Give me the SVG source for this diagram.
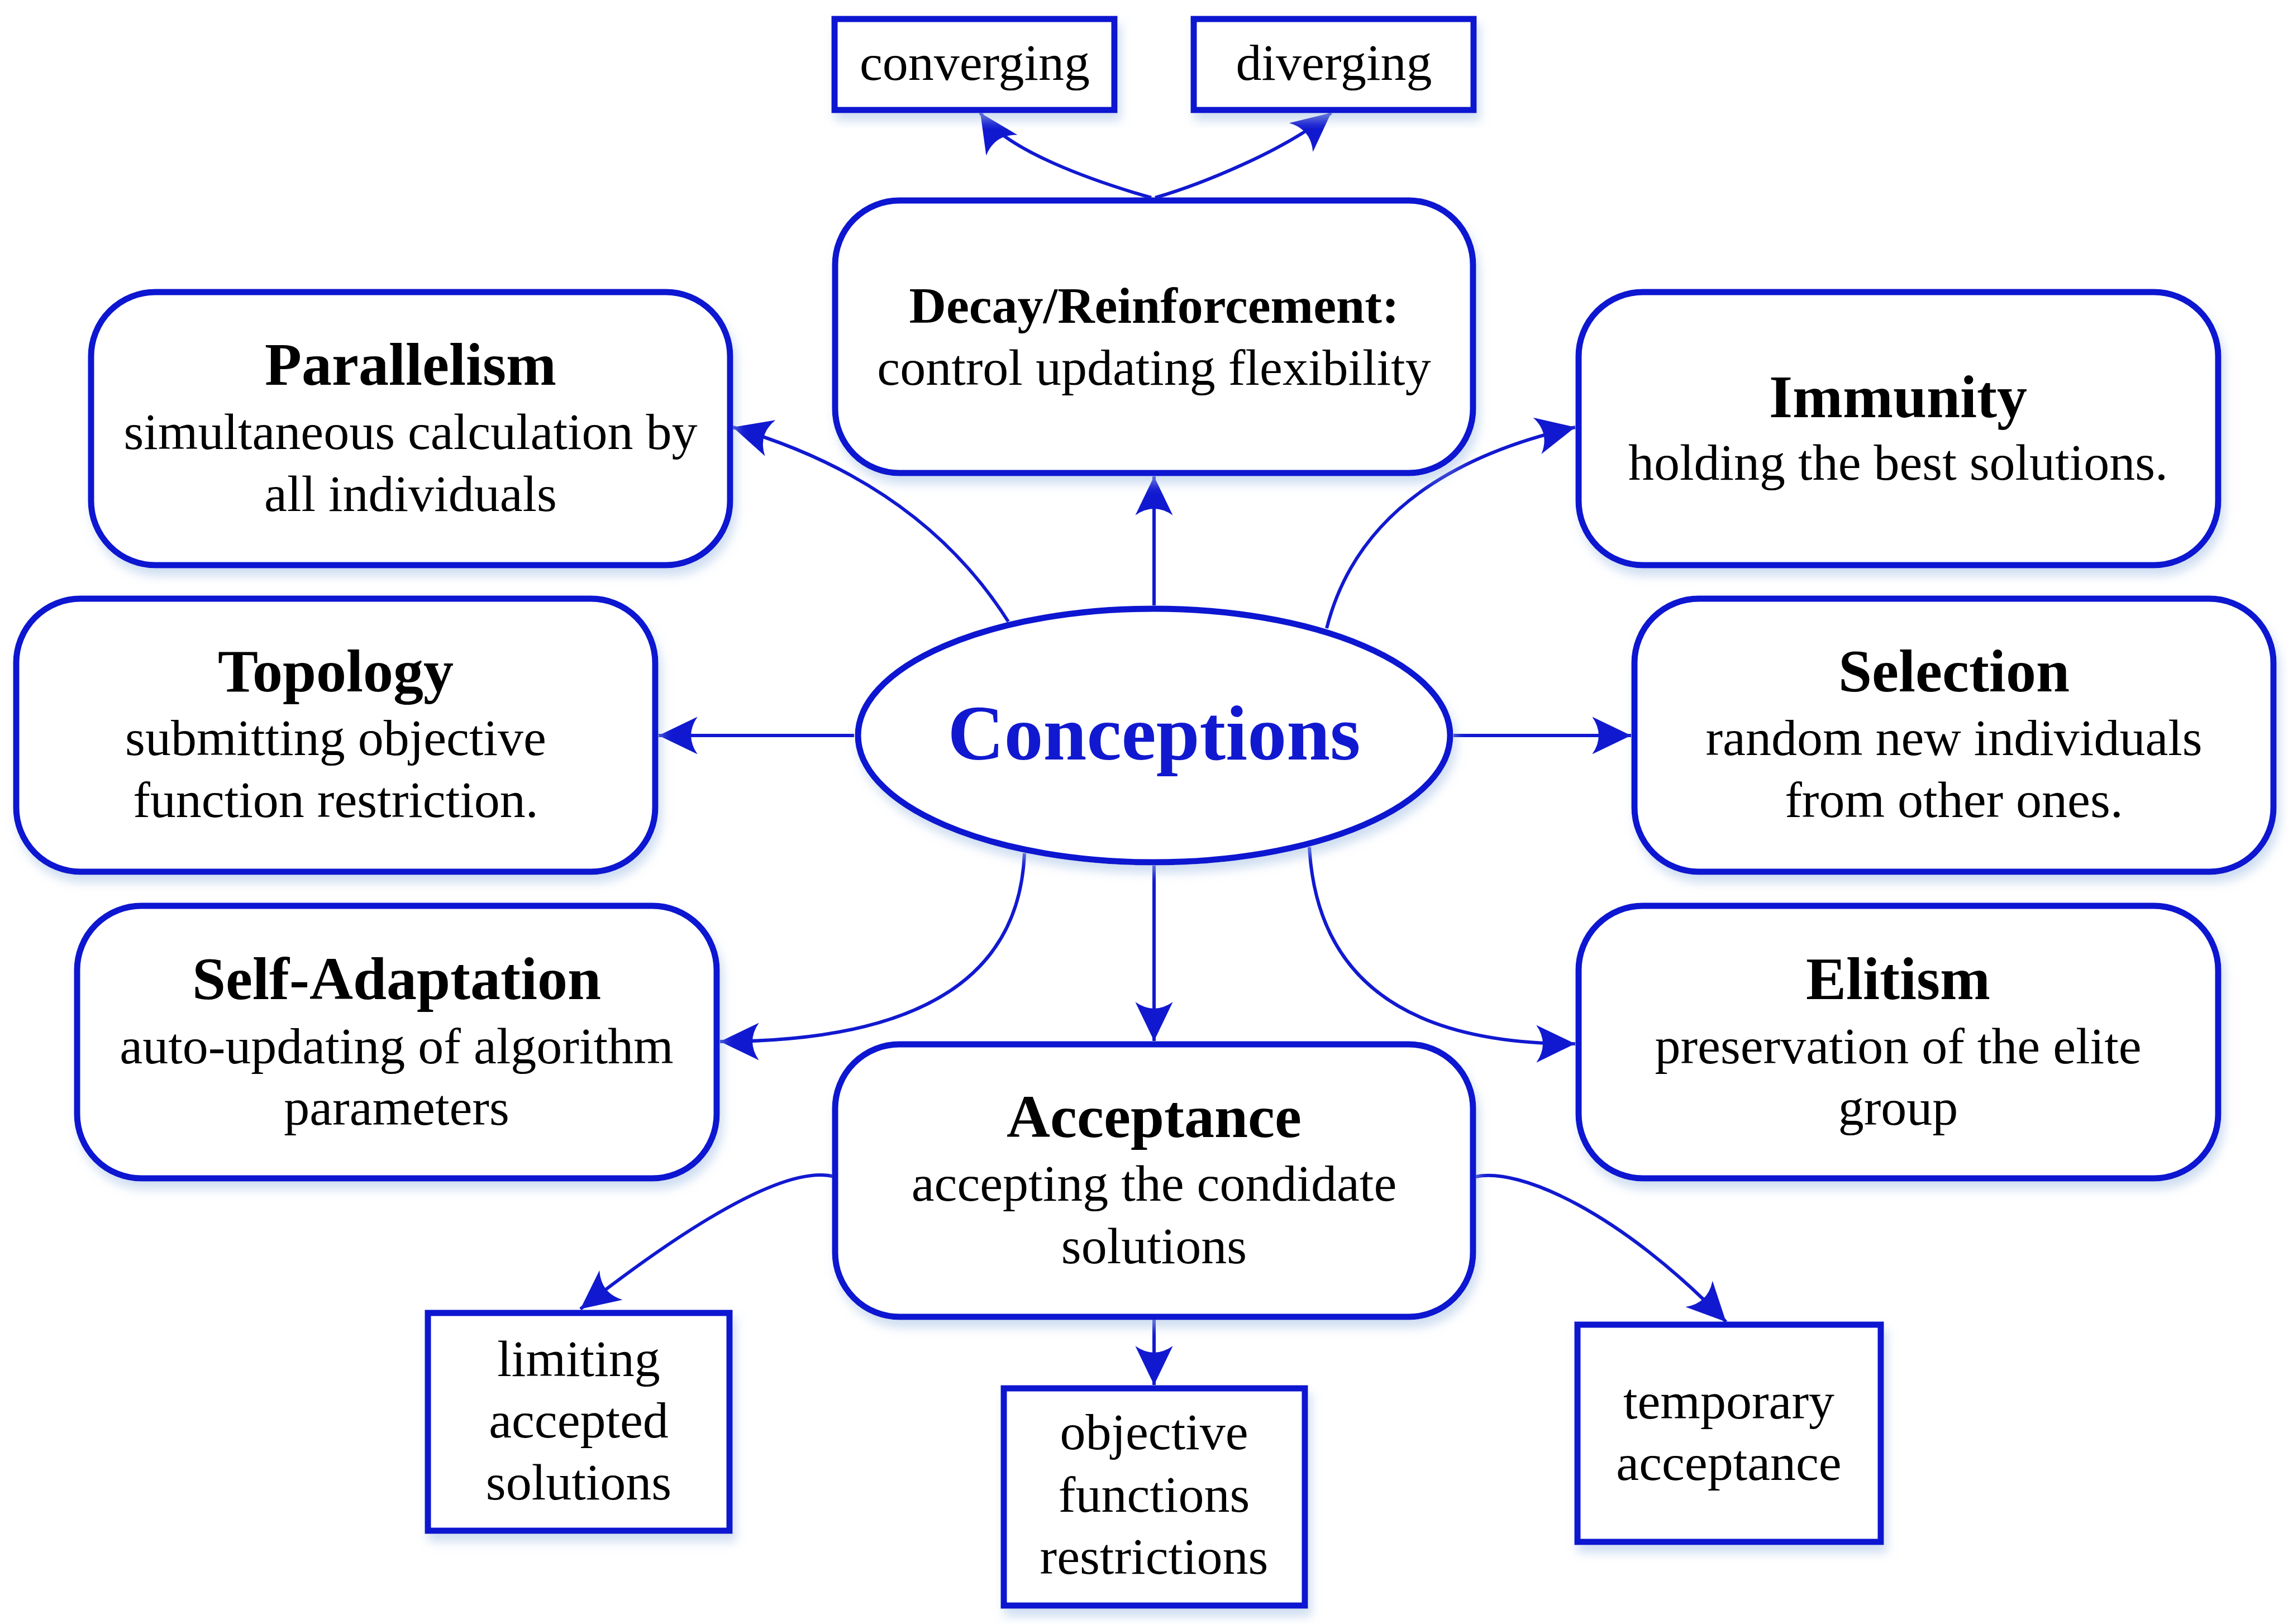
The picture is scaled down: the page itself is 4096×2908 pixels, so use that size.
<svg xmlns="http://www.w3.org/2000/svg" width="4096" height="2908" viewBox="0 0 4096 2908">
<style>
.box{fill:#fff;stroke:#1119d0;stroke-width:11;filter:url(#sh)}
.sq{fill:#fff;stroke:#1119d0;stroke-width:11;filter:url(#sh)}
.con{fill:none;stroke:#1119d0;stroke-width:6;marker-end:url(#ah)}
text{font-family:"Liberation Serif","Times New Roman",serif;text-anchor:middle;fill:#000}
.t{font-size:108px;font-weight:bold}
.b{font-size:92px}
.tb{font-size:92px;font-weight:bold}
</style>
<defs>
<filter id="sh" x="-10%" y="-10%" width="125%" height="130%">
<feDropShadow dx="6" dy="14" stdDeviation="9" flood-color="#a9c3e6" flood-opacity="0.55"/>
</filter>
<marker id="ah" markerUnits="userSpaceOnUse" markerWidth="80" markerHeight="80" viewBox="-60 -30 62 60" refX="0" refY="0" orient="auto" overflow="visible">
<path d="M0,0 L-54,-26 Q-36,0 -54,26 Z" fill="#1119d0"/>
</marker>
</defs>
<rect width="4096" height="2908" fill="#fff"/>

<g id="connectors">
<path class="con" d="M2066,1084 L2066,853"/>
<path class="con" d="M2061,354 C1960,325 1800,270 1755,202"/>
<path class="con" d="M2068,354 C2150,330 2300,270 2383,202"/>
<path class="con" d="M1805,1113 Q1646,862 1312,765"/>
<path class="con" d="M2375,1125 Q2445,850 2820,765"/>
<path class="con" d="M1529,1317 L1179,1317"/>
<path class="con" d="M2602,1317 L2920,1317"/>
<path class="con" d="M1834,1528 Q1820,1865 1289,1865"/>
<path class="con" d="M2344,1517 Q2364,1870 2820,1869"/>
<path class="con" d="M2066,1550 L2066,1864"/>
<path class="con" d="M1494,2107 C1430,2090 1300,2140 1039,2344"/>
<path class="con" d="M2066,2363 L2066,2480"/>
<path class="con" d="M2642,2107 C2720,2090 2900,2170 3090,2367"/>
</g>

<g id="converging">
<rect class="sq" x="1494" y="34" width="501" height="163"/>
<text class="b" x="1745" y="143">converging</text>
</g>
<g id="diverging">
<rect class="sq" x="2137" y="34" width="501" height="163"/>
<text class="b" x="2388" y="143">diverging</text>
</g>
<g id="decay">
<rect class="box" x="1495" y="359" width="1142" height="488" rx="115" ry="115"/>
<text class="tb" x="2066" y="578">Decay/Reinforcement:</text>
<text class="b" x="2066" y="689">control updating flexibility</text>
</g>
<g id="parallelism">
<rect class="box" x="163" y="523" width="1144" height="489" rx="115" ry="115"/>
<text class="t" x="735" y="689">Parallelism</text>
<text class="b" x="735" y="804">simultaneous calculation by</text>
<text class="b" x="735" y="915">all individuals</text>
</g>
<g id="immunity">
<rect class="box" x="2826" y="523" width="1145" height="489" rx="115" ry="115"/>
<text class="t" x="3398" y="747">Immunity</text>
<text class="b" x="3398" y="859">holding the best solutions.</text>
</g>
<g id="topology">
<rect class="box" x="29" y="1072" width="1144" height="489" rx="115" ry="115"/>
<text class="t" x="601" y="1238">Topology</text>
<text class="b" x="601" y="1352">submitting objective</text>
<text class="b" x="601" y="1463">function restriction.</text>
</g>
<g id="selection">
<rect class="box" x="2926" y="1072" width="1144" height="489" rx="115" ry="115"/>
<text class="t" x="3498" y="1238">Selection</text>
<text class="b" x="3498" y="1352">random new individuals</text>
<text class="b" x="3498" y="1463">from other ones.</text>
</g>
<g id="conceptions">
<ellipse cx="2066" cy="1317" rx="530" ry="227" fill="#fff" stroke="#1119d0" stroke-width="11" filter="url(#sh)"/>
<text x="2066" y="1360" font-size="140" font-weight="bold" style="fill:#1119d0">Conceptions</text>
</g>
<g id="self-adaptation">
<rect class="box" x="138" y="1622" width="1145" height="488" rx="115" ry="115"/>
<text class="t" x="710" y="1789">Self-Adaptation</text>
<text class="b" x="710" y="1904">auto-updating of algorithm</text>
<text class="b" x="710" y="2014">parameters</text>
</g>
<g id="elitism">
<rect class="box" x="2826" y="1622" width="1145" height="488" rx="115" ry="115"/>
<text class="t" x="3398" y="1789">Elitism</text>
<text class="b" x="3398" y="1904">preservation of the elite</text>
<text class="b" x="3398" y="2014">group</text>
</g>
<g id="acceptance">
<rect class="box" x="1495" y="1870" width="1142" height="488" rx="115" ry="115"/>
<text class="t" x="2066" y="2036">Acceptance</text>
<text class="b" x="2066" y="2150">accepting the condidate</text>
<text class="b" x="2066" y="2262">solutions</text>
</g>
<g id="limiting">
<rect class="sq" x="766" y="2351" width="540" height="390"/>
<text class="b" x="1036" y="2464">limiting</text>
<text class="b" x="1036" y="2574">accepted</text>
<text class="b" x="1036" y="2685">solutions</text>
</g>
<g id="objective">
<rect class="sq" x="1797" y="2486" width="539" height="389"/>
<text class="b" x="2066" y="2595">objective</text>
<text class="b" x="2066" y="2707">functions</text>
<text class="b" x="2066" y="2818">restrictions</text>
</g>
<g id="temporary">
<rect class="sq" x="2824" y="2372" width="543" height="389"/>
<text class="b" x="3095" y="2540">temporary</text>
<text class="b" x="3095" y="2650">acceptance</text>
</g>
</svg>
